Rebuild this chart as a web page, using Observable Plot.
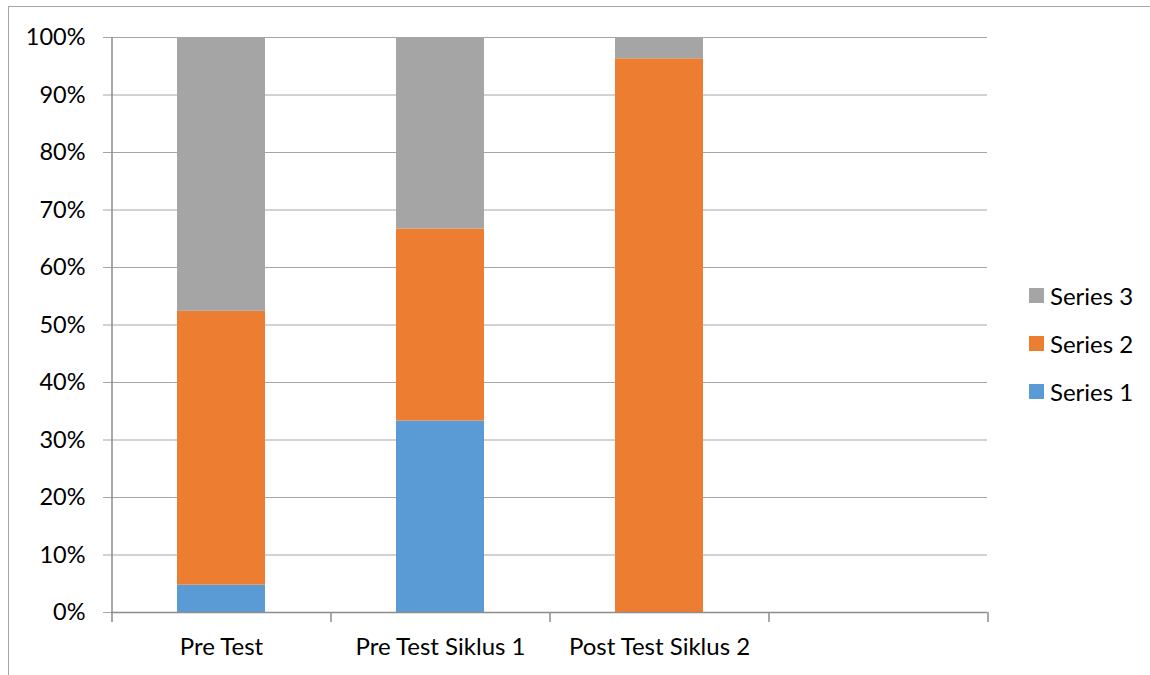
<!DOCTYPE html>
<html>
<head>
<meta charset="utf-8">
<script src="https://cdn.jsdelivr.net/npm/d3@7"></script>
<script src="https://cdn.jsdelivr.net/npm/@observablehq/plot@0.6"></script>
<style>
  html, body { margin: 0; padding: 0; background: #fff; }
  #wrap { position: relative; width: 1150px; height: 675px; overflow: hidden; font-family: Lato, "Open Sans", sans-serif; }
  #frame { position: absolute; left: 8px; top: 6px; right: -2px; bottom: -2px; border-top: 1.5px solid #a6a6a6; border-left: 1.5px solid #a6a6a6; pointer-events: none; }
  #legend { position: absolute; left: 1029px; top: 271px; font-size: 24px; color: #000; }
  #legend .row { display: flex; align-items: center; height: 48px; }
  #legend .sw { width: 15px; height: 15px; margin-right: 6px; }
</style>
</head>
<body>
<div id="wrap">
  <div id="chart"></div>
  <div id="frame"></div>
  <div id="legend"></div>
</div>
<script>
const categories = ["Pre Test", "Pre Test Siklus 1", "Post Test Siklus 2", " "];
const seriesNames = ["Series 1", "Series 2", "Series 3"];
const series1 = [4.76, 33.3, 0];
const series2 = [47.62, 33.4, 96.3];
const series3 = [47.62, 33.3, 3.7];
const seriesColors = ["#5B9BD5", "#ED7D31", "#A5A5A5"];
const yTicks = [0, 10, 20, 30, 40, 50, 60, 70, 80, 90, 100];

const seriesValues = [series1, series2, series3];
const rows = [];
seriesNames.forEach((s, si) => {
  seriesValues[si].forEach((v, ci) => rows.push({category: categories[ci], series: s, value: v}));
});

const W = 1150, H = 675;
const mL = 111, mR = 163, mT = 37, mB = 63;
const step = (W - mL - mR) / categories.length;
const tickLen = 10 / ((H - mT - mB) / 100); // 10px in data units
const gridColor = "#a6a6a6";
const axisColor = "#8c8c8c";
const font = "Lato, 'Open Sans', sans-serif";

const plot = Plot.plot({
  width: W, height: H,
  marginLeft: mL, marginRight: mR, marginTop: mT, marginBottom: mB,
  style: {fontFamily: font, fontSize: "24px", color: "#000", background: "#fff"},
  x: {domain: categories, paddingInner: 0.6, paddingOuter: 0.3, label: null},
  y: {domain: [0, 100], label: null},
  color: {domain: seriesNames, range: seriesColors},
  marks: [
    Plot.gridY(yTicks, {stroke: gridColor, strokeOpacity: 1, strokeWidth: 1}),
    Plot.axisY(yTicks, {tickSize: 8, tickPadding: 18, stroke: gridColor, strokeOpacity: 1, tickFormat: d => d + "%", label: null, fontSize: 23.5}),
    Plot.barY(rows, {x: "category", y: "value", fill: "series", order: seriesNames}),
    Plot.ruleY([0], {stroke: axisColor, strokeWidth: 1.5}),
    Plot.ruleX([categories[0]], {x: d => d, dx: -step / 2, y1: 100, y2: -tickLen, stroke: axisColor, strokeWidth: 1.5}),
    Plot.ruleX(categories.slice(1), {x: d => d, dx: -step / 2, y1: 0, y2: -tickLen, stroke: axisColor, strokeWidth: 1.5}),
    Plot.ruleX([categories[categories.length - 1]], {x: d => d, dx: step / 2, y1: 0, y2: -tickLen, stroke: axisColor, strokeWidth: 1.5}),
    Plot.axisX({tickSize: 0, tickPadding: 25, label: null, fontSize: 24})
  ]
});
document.getElementById("chart").appendChild(plot);

const legend = document.getElementById("legend");
[...seriesNames].reverse().forEach(s => {
  const row = document.createElement("div");
  row.className = "row";
  const sw = document.createElement("div");
  sw.className = "sw";
  sw.style.background = seriesColors[seriesNames.indexOf(s)];
  const t = document.createElement("span");
  t.textContent = s;
  row.appendChild(sw); row.appendChild(t);
  legend.appendChild(row);
});
</script>
</body>
</html>
